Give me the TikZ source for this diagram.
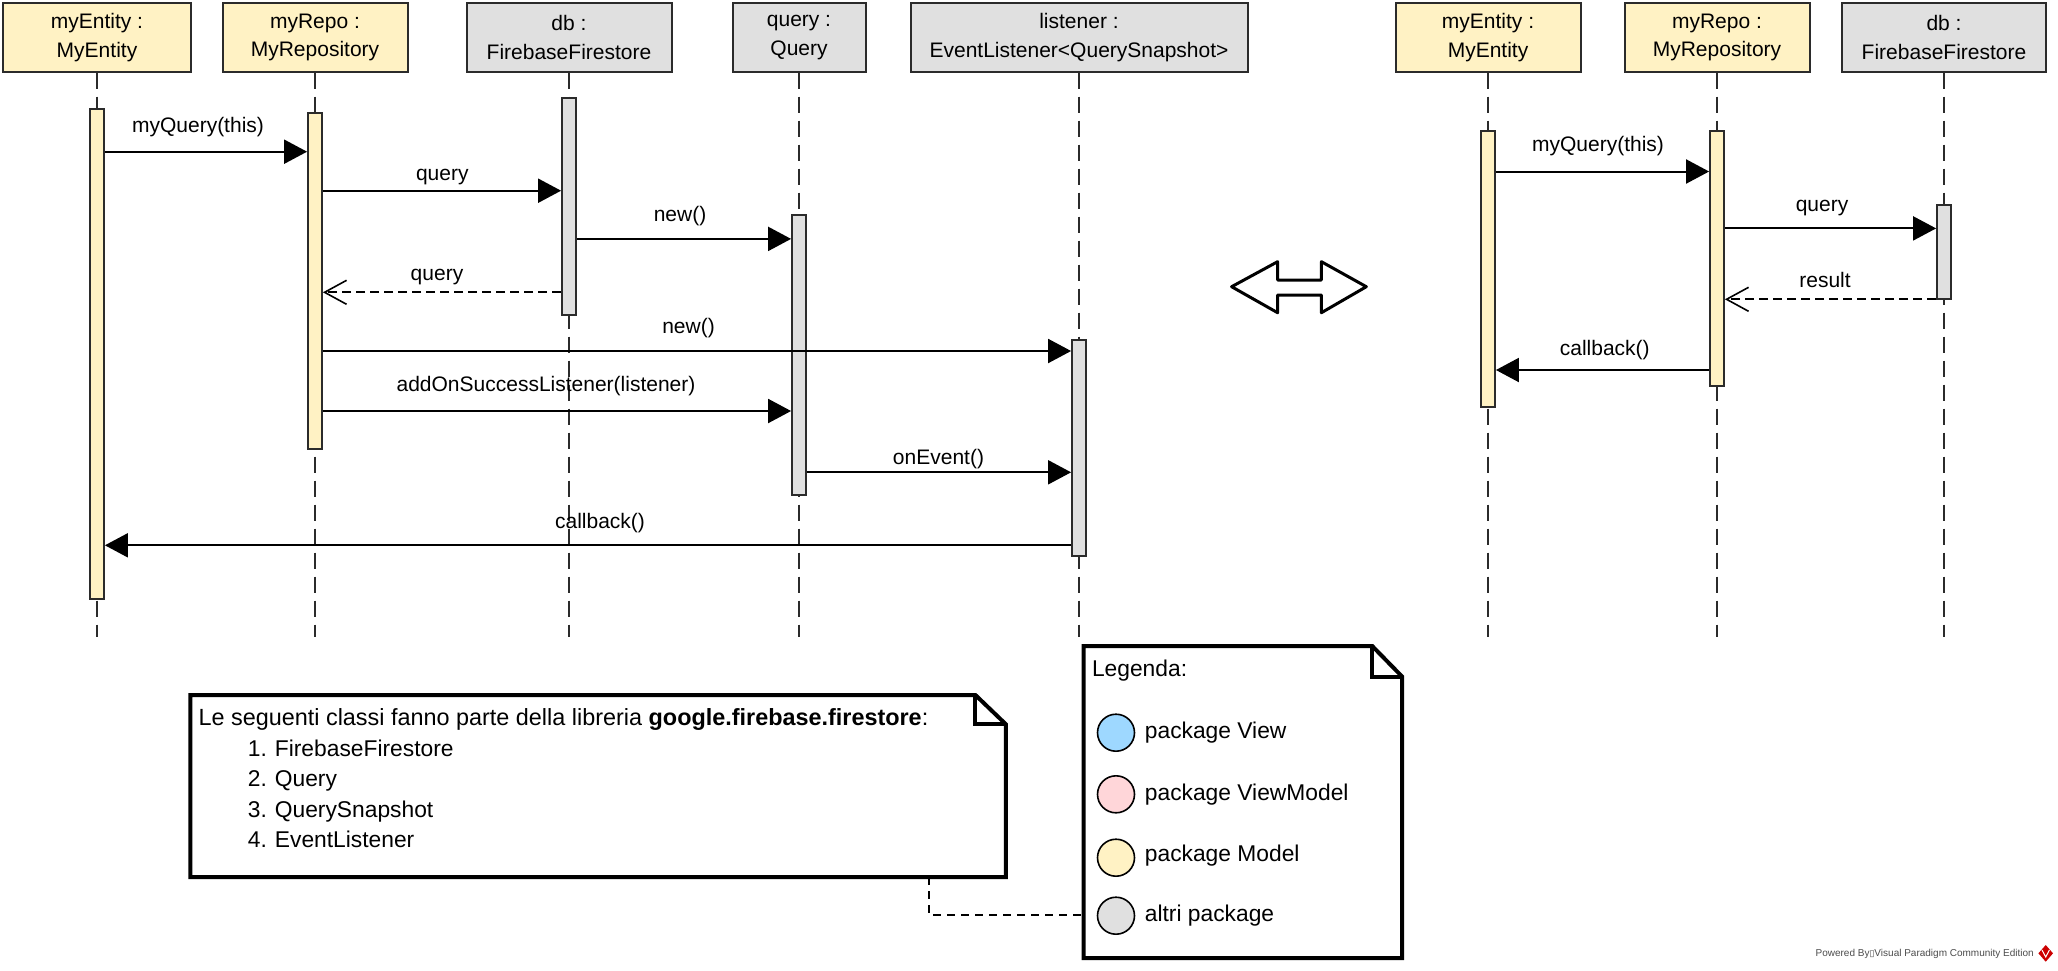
\documentclass[tikz,border=0pt]{standalone}
\usepackage{fontspec}
\setmainfont{Liberation Sans}
\newfontfamily\symfont{DejaVu Sans}
\usetikzlibrary{arrows.meta}
\definecolor{ylw}{HTML}{FFF2C4}
\definecolor{gry}{HTML}{E0E0E0}
\definecolor{blu}{HTML}{9ED8FF}
\definecolor{pnk}{HTML}{FFD6D9}
\definecolor{linec}{HTML}{2B2B2B}
\begin{document}
\begin{tikzpicture}[x=1pt,y=-1pt,
  hdr/.style={draw=linec, line width=2pt, minimum height=68.4pt, align=center,
    font=\fontsize{21}{28.5}\selectfont, inner sep=0pt},
  act/.style={draw=linec, line width=1.8pt, minimum width=14pt, inner sep=0pt},
  lifeline/.style={draw=linec, line width=1.5pt, dash pattern=on 16pt off 8pt},
  msg/.style={line width=2pt, -{Triangle[length=23pt,width=24pt]}},
  ret/.style={line width=2pt, dash pattern=on 9pt off 5pt,
    -{Straight Barb[length=22pt,width=24pt,line width=1.6pt]}},
  lbl/.style={font=\fontsize{21}{25}\selectfont, inner sep=0pt, anchor=base},
  ntext/.style={font=\fontsize{22.8}{27}\selectfont, inner sep=0pt, anchor=base west},
  notebox/.style={draw=black, line width=4pt, line join=miter},
  noteconn/.style={draw=black, line width=2pt, dash pattern=on 8pt off 6pt},
  dot/.style={circle, draw=black, line width=1.6pt, minimum size=37pt, inner sep=0pt}]

\fill[white] (0,0) rectangle (2058,970);
\useasboundingbox (0,0) rectangle (2058,970);

% ---------- left sequence: participants ----------
\node[hdr, fill=ylw, minimum width=188] (h1) at (97,37.5) {myEntity :\\MyEntity};
\node[hdr, fill=ylw, minimum width=185] (h2) at (315,37.5) {myRepo :\\MyRepository};
\node[hdr, fill=gry, minimum width=205] (h3) at (569,37.5) {db :\\FirebaseFirestore};
\node[hdr, fill=gry, minimum width=133] (h4) at (799,37.5) {query :\\Query};
\node[hdr, fill=gry, minimum width=337] (h5) at (1079,37.5) {listener :\\EventListener<QuerySnapshot>};

% ---------- right sequence: participants ----------
\node[hdr, fill=ylw, minimum width=185] (g1) at (1488,37.5) {myEntity :\\MyEntity};
\node[hdr, fill=ylw, minimum width=185] (g2) at (1717,37.5) {myRepo :\\MyRepository};
\node[hdr, fill=gry, minimum width=204] (g3) at (1944,37.5) {db :\\FirebaseFirestore};

% ---------- lifelines ----------
\foreach \h in {h1,h2,h3,h4,h5,g1,g2,g3}{
  \coordinate (\h end) at (\h.south |- 0,636.6);
  \draw[lifeline] (\h) -- (\h end);
}

% ---------- activations ----------
\node[act, fill=ylw, minimum height=490.3] (a1) at (97,354.15) {};
\node[act, fill=ylw, minimum height=336] (a2) at (315,281.3) {};
\node[act, fill=gry, minimum height=216.7] (a3) at (569,206.65) {};
\node[act, fill=gry, minimum height=280] (a4) at (799,355.3) {};
\node[act, fill=gry, minimum height=215.4] (a5) at (1079,448) {};

\node[act, fill=ylw, minimum height=276] (b1) at (1488,268.7) {};
\node[act, fill=ylw, minimum height=255.3] (b2) at (1717,258.35) {};
\node[act, fill=gry, minimum height=94.5] (b3) at (1944,252.05) {};

% ---------- left messages ----------
\draw[msg] (a1.east |- 0,151.7) -- (a2.west |- 0,151.7);
\node[lbl] (m1) at (198,132.7) {myQuery(this)};
\draw[msg] (a2.east |- 0,190.7) -- (a3.west |- 0,190.7);
\node[lbl] (m2) at (442.3,180) {query};
\draw[msg] (a3.east |- 0,238.9) -- (a4.west |- 0,238.9);
\node[lbl] (m3) at (680,221) {new()};
\draw[ret] (a3.west |- 0,292.3) -- (a2.east |- 0,292.3);
\node[lbl] (m4) at (437,280) {query};
\draw[msg] (a2.east |- 0,351) -- (a5.west |- 0,351);
\node[lbl] (m5) at (688.5,333.3) {new()};
\draw[msg] (a2.east |- 0,411) -- (a4.west |- 0,411);
\node[lbl] (m6) at (546,391.7) {addOnSuccessListener(listener)};
\draw[msg] (a4.east |- 0,472.3) -- (a5.west |- 0,472.3);
\node[lbl] (m7) at (938.5,464.3) {onEvent()};
\draw[msg] (a5.west |- 0,545.3) -- (a1.east |- 0,545.3);
\node[lbl] (m8) at (600,528.3) {callback()};

% ---------- right messages ----------
\draw[msg] (b1.east |- 0,171.5) -- (b2.west |- 0,171.5);
\node[lbl] (k1) at (1598,151.7) {myQuery(this)};
\draw[msg] (b2.east |- 0,228.4) -- (b3.west |- 0,228.4);
\node[lbl] (k2) at (1822,211.5) {query};
\draw[ret] (b3.west |- 0,299.3) -- (b2.east |- 0,299.3);
\node[lbl] (k3) at (1825,287.7) {result};
\draw[msg] (b2.west |- 0,370) -- (b1.east |- 0,370);
\node[lbl] (k4) at (1604.8,355) {callback()};

% ---------- equivalence double arrow ----------
\draw[line width=3pt, line join=round, fill=white]
  (1231.6,286.7) -- (1277.6,261.7) -- (1277.6,280) -- (1321.4,280) -- (1321.4,261.7)
  -- (1366.3,286.7) -- (1321.4,312.7) -- (1321.4,295) -- (1277.6,295) -- (1277.6,312.7) -- cycle;

% ---------- note: library classes ----------
\node[minimum width=815.2, minimum height=181.7, anchor=north west, inner sep=0pt] (note1) at (190.3,695) {};
\draw[notebox, fill=white] (note1.north west) -- ([xshift=-30.5pt]note1.north east)
  -- ([yshift=-29.3pt]note1.north east) -- (note1.south east) -- (note1.south west) -- cycle;
\draw[notebox] ([xshift=-30.5pt]note1.north east) -- ([xshift=-30.5pt,yshift=-29.3pt]note1.north east)
  -- ([yshift=-29.3pt]note1.north east);
\node[ntext, font=\fontsize{23.4}{27}\selectfont] (n1t) at (198.4,725) {Le seguenti classi fanno parte della libreria \textbf{google.firebase.firestore}:};
\node[ntext] (n1a) at (247.7,756) {1.};
\node[ntext] (n1b) at (247.7,786.5) {2.};
\node[ntext] (n1c) at (247.7,817) {3.};
\node[ntext] (n1d) at (247.7,847.5) {4.};
\node[ntext] (n1ai) at (274.7,756) {FirebaseFirestore};
\node[ntext] (n1bi) at (274.7,786.5) {Query};
\node[ntext] (n1ci) at (274.7,817) {QuerySnapshot};
\node[ntext] (n1di) at (274.7,847.5) {EventListener};

% ---------- note: legend ----------
\node[minimum width=318.2, minimum height=311.7, anchor=north west, inner sep=0pt] (legend) at (1083.6,646) {};
\draw[notebox, fill=white] (legend.north west) -- ([xshift=-30pt]legend.north east)
  -- ([yshift=-30.7pt]legend.north east) -- (legend.south east) -- (legend.south west) -- cycle;
\draw[notebox] ([xshift=-30pt]legend.north east) -- ([xshift=-30pt,yshift=-30.7pt]legend.north east)
  -- ([yshift=-30.7pt]legend.north east);
\node[ntext] (lgt) at (1091.8,676.7) {Legenda:};
\node[dot, fill=blu] (c1) at (1116,732.7) {};
\node[ntext] (c1t) at (1144.7,738.3) {package View};
\node[dot, fill=pnk] (c2) at (1116,794.3) {};
\node[ntext] (c2t) at (1144.7,800) {package ViewModel};
\node[dot, fill=ylw] (c3) at (1116,857.7) {};
\node[ntext] (c3t) at (1144.7,861.7) {package Model};
\node[dot, fill=gry] (c4) at (1116,915.7) {};
\node[ntext] (c4t) at (1144.7,921.7) {altri package};

% ---------- note anchor line ----------
\draw[noteconn] (note1.south -| 929,0) |- (legend.west |- 0,914.8);

% ---------- tool credit ----------
\node[font=\fontsize{10}{12}\selectfont, text=black!70, anchor=base east, inner sep=0pt] (vp)
  at (2034,956.7) {Powered By{\symfont\fontsize{9}{12}\selectfont ▯}Visual Paradigm Community Edition};
\fill[red!80!black] (2045.7,945) -- (2053,953.3) -- (2045.7,961.7) -- (2038.4,953.3) -- cycle;
\draw[white, line width=1pt] (2042,950) -- (2045.7,957) -- (2049.4,950);
\end{tikzpicture}
\end{document}
